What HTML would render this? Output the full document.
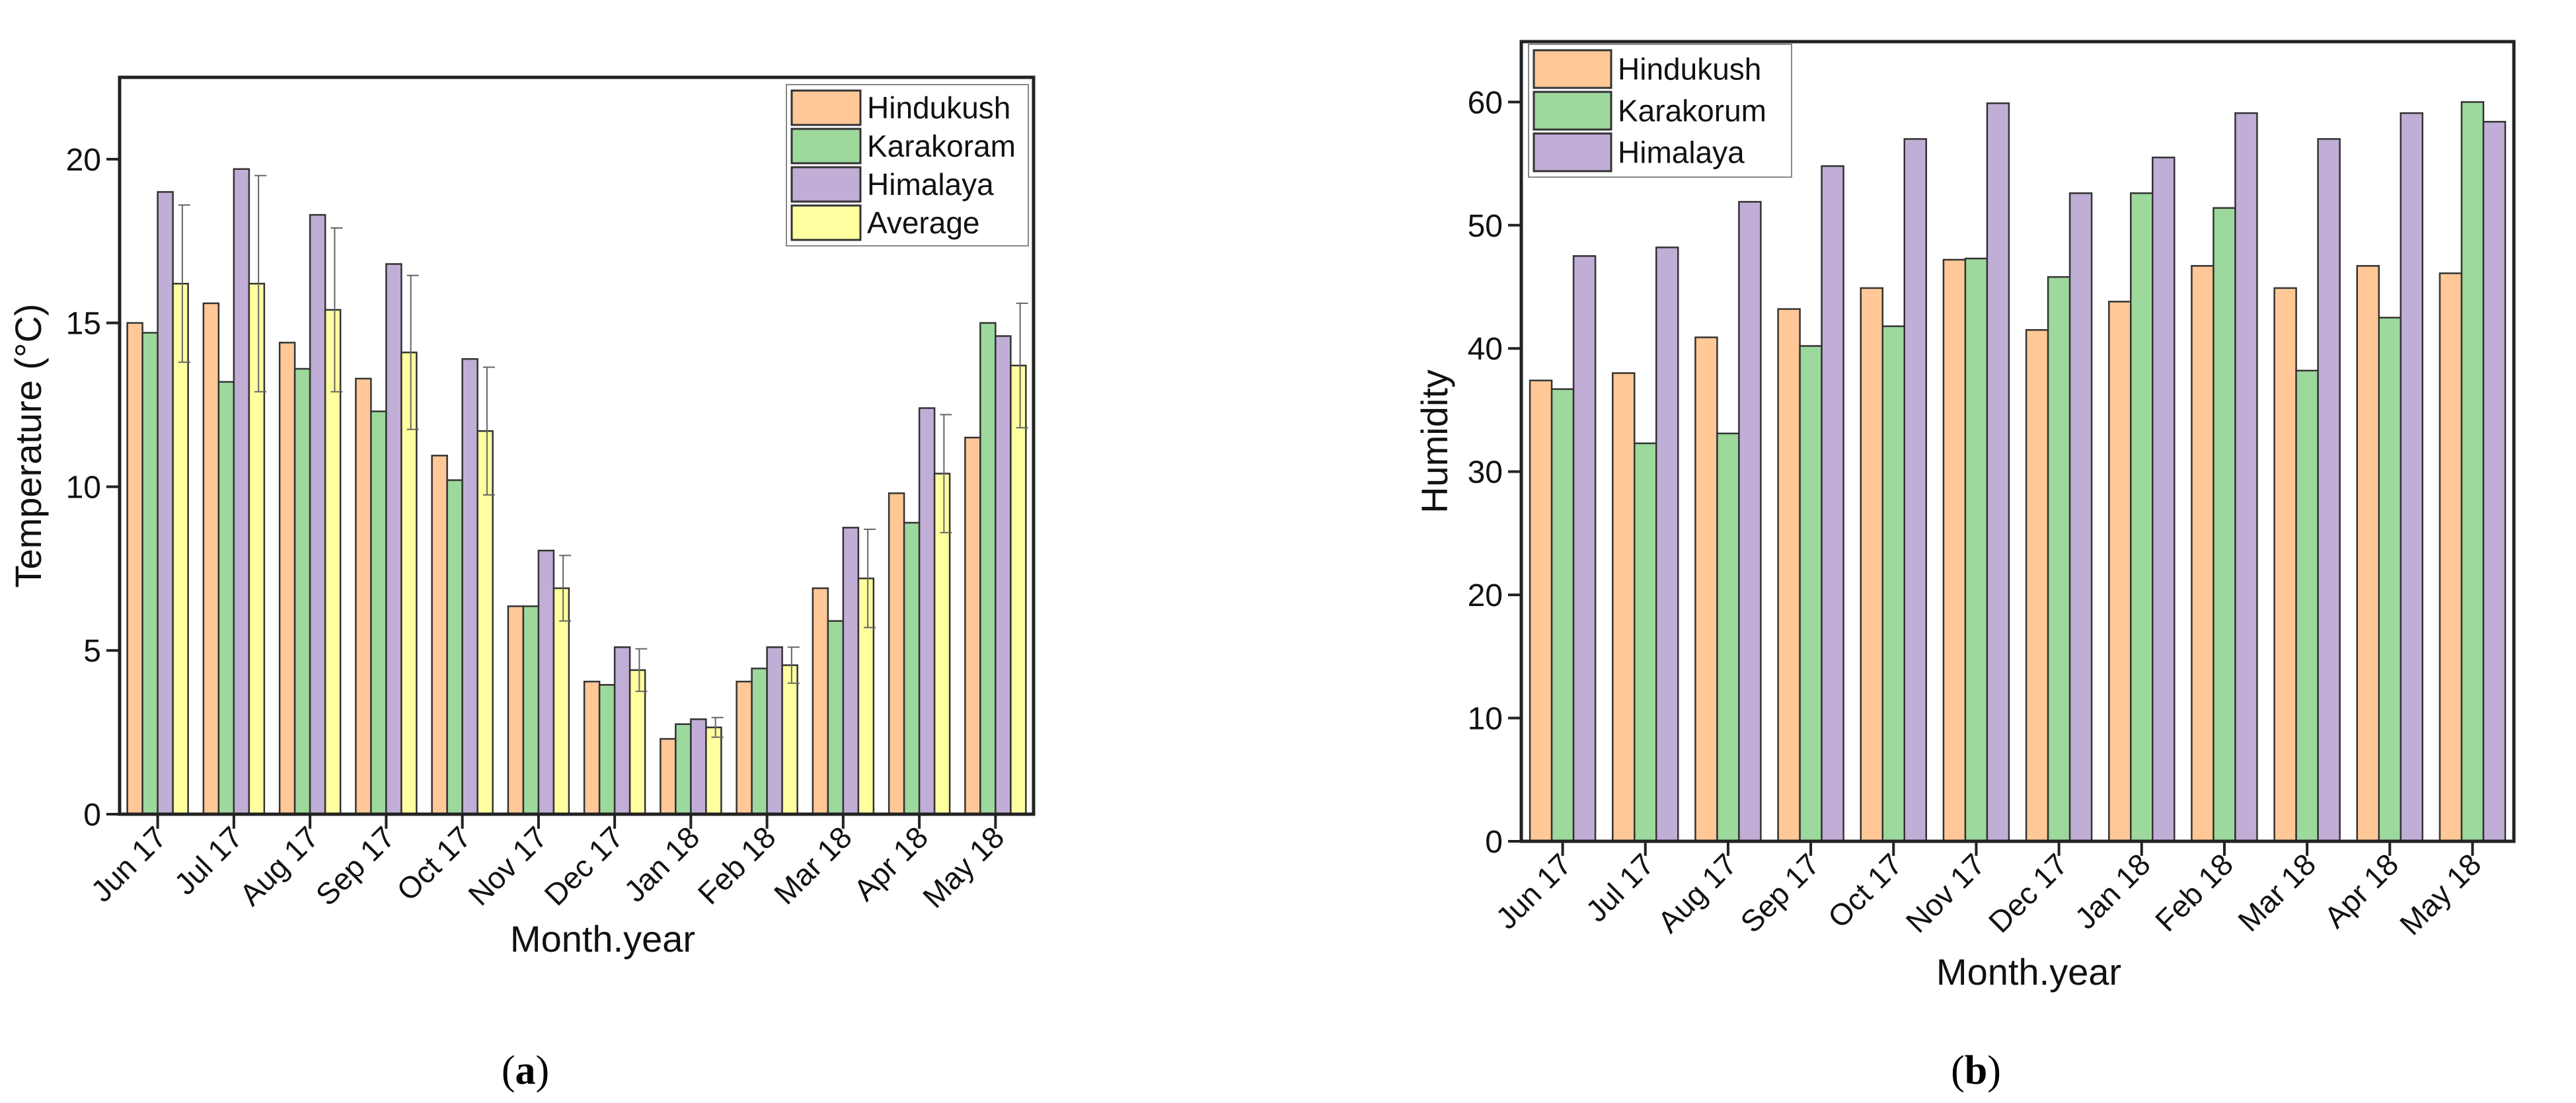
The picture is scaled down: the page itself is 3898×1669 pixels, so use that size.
<!DOCTYPE html>
<html><head><meta charset="utf-8"><style>
html,body{margin:0;padding:0;background:#fff;}
svg{display:block;font-family:"Liberation Sans",sans-serif;}
</style></head><body>
<svg id="svg" width="3898" height="1669" viewBox="0 0 3898 1669" xmlns="http://www.w3.org/2000/svg">
<g id="chartA"></g>
<g id="chartB"></g>
<text x="795" y="1640" font-family="Liberation Serif,serif" font-size="62" text-anchor="middle">(<tspan font-weight="bold">a</tspan>)</text>
<text x="2990" y="1640" font-family="Liberation Serif,serif" font-size="62" text-anchor="middle">(<tspan font-weight="bold">b</tspan>)</text>
</svg>
<script>
const months=["Jun 17","Jul 17","Aug 17","Sep 17","Oct 17","Nov 17","Dec 17","Jan 18","Feb 18","Mar 18","Apr 18","May 18"];
const tempHindukush=[15,15.6,14.4,13.3,10.95,6.35,4.05,2.3,4.05,6.9,9.8,11.5];
const tempKarakoram=[14.7,13.2,13.6,12.3,10.2,6.35,3.95,2.75,4.45,5.9,8.9,15];
const tempHimalaya=[19,19.7,18.3,16.8,13.9,8.05,5.1,2.9,5.1,8.75,12.4,14.6];
const tempAverage=[16.2,16.2,15.4,14.1,11.7,6.9,4.4,2.65,4.55,7.2,10.4,13.7];
const tempError=[2.4,3.3,2.5,2.35,1.95,1.0,0.65,0.3,0.55,1.5,1.8,1.9];
const tempTicks=[0,5,10,15,20];
const humHindukush=[37.4,38,40.9,43.2,44.9,47.2,41.5,43.8,46.7,44.9,46.7,46.1];
const humKarakorum=[36.7,32.3,33.1,40.2,41.8,47.3,45.8,52.6,51.4,38.2,42.5,60];
const humHimalaya=[47.5,48.2,51.9,54.8,57,59.9,52.6,55.5,59.1,57,59.1,58.4];
const humTicks=[0,10,20,30,40,50,60];

const NS="http://www.w3.org/2000/svg";
function mk(parent,tag,attrs,text){const e=document.createElementNS(NS,tag);for(const k in attrs)e.setAttribute(k,attrs[k]);if(text!==undefined)e.textContent=text;parent.appendChild(e);return e;}
const COL={o:"#FFC896",g:"#9DD89D",p:"#C0AED6",y:"#FFFFA0"};

function drawChart(g,cfg){
  const {L,R,T,B,ymax,ticks,series,barW,tickIdx,ytitle,legend}=cfg;
  const y=v=>B-(v/ymax)*(B-T);
  const gw=(R-L)/months.length;
  const cx=i=>L+gw*(i+0.5);
  series.forEach((s,si)=>{
    s.vals.forEach((v,i)=>{
      const x0=cx(i)+(si-tickIdx)*barW;
      const r=mk(g,"rect",{x:x0,y:y(v),width:barW,height:B-y(v),fill:s.c,stroke:"#333","stroke-width":2.5});
      
      
      if(s.err){
        const ex=x0+barW*0.62;
        const el=mk(g,"path",{d:`M${ex},${y(v-s.err[i])}V${y(v+s.err[i])}M${ex-6},${y(v+s.err[i])}H${ex+12}M${ex-6},${y(v-s.err[i])}H${ex+12}`,stroke:"#666","stroke-width":2,fill:"none"});
        
        
      }
    });
  });
  const fr=mk(g,"rect",{x:L,y:T,width:R-L,height:B-T,fill:"none",stroke:"#222","stroke-width":5});
  
  
  ticks.forEach(t=>{
    mk(g,"line",{x1:L-20,x2:L,y1:y(t),y2:y(t),stroke:"#222","stroke-width":4});
    const tl=mk(g,"text",{x:L-28,y:y(t)+17,"font-size":48,"text-anchor":"end",fill:"#111"},String(t));
    
    
  });
  months.forEach((m,i)=>{
    mk(g,"line",{x1:cx(i),x2:cx(i),y1:B,y2:B+22,stroke:"#222","stroke-width":4});
    const tx=cx(i)+16,ty=B+38;
    const xl=mk(g,"text",{x:tx,y:ty,"font-size":46,"text-anchor":"end",fill:"#111",transform:`rotate(-45 ${tx} ${ty})`},m);
    
    
  });
  const xt=mk(g,"text",{x:cfg.xtX,y:cfg.xtY,"font-size":56,"text-anchor":"middle",fill:"#111"},"Month.year");
  
  
  const yt=mk(g,"text",{x:cfg.ytX,y:(T+B)/2,"font-size":56,"text-anchor":"middle",fill:"#111",transform:`rotate(-90 ${cfg.ytX} ${(T+B)/2})`},ytitle);
  
  
  const lg=mk(g,"g",{});
  
  
  mk(lg,"rect",{x:legend.x,y:legend.y,width:legend.w,height:legend.rh*series.length+12,fill:"#fff",stroke:"#888","stroke-width":2});
  series.forEach((s,si)=>{
    const ry=legend.y+6+si*legend.rh;
    mk(lg,"rect",{x:legend.x+8,y:ry+3,width:legend.sw,height:legend.rh-6,fill:s.c,stroke:"#333","stroke-width":3});
    const lt=mk(lg,"text",{x:legend.x+legend.sw+18,y:ry+legend.rh/2+16,"font-size":46,fill:"#111"},s.n);
    
    
  });
}
drawChart(document.getElementById('chartA'),{L:181,R:1564,T:117,B:1232,ymax:22.5,ticks:tempTicks,barW:23,tickIdx:2,
  series:[{n:"Hindukush",c:COL.o,vals:tempHindukush},{n:"Karakoram",c:COL.g,vals:tempKarakoram},{n:"Himalaya",c:COL.p,vals:tempHimalaya},{n:"Average",c:COL.y,vals:tempAverage,err:tempError}],
  ytitle:"Temperature (°C)",ytX:62,xtX:912,xtY:1440,legend:{x:1190,y:128,w:366,rh:58,sw:104}});
drawChart(document.getElementById('chartB'),{L:2302,R:3804,T:63,B:1273,ymax:64.9,ticks:humTicks,barW:33,tickIdx:1.5,
  series:[{n:"Hindukush",c:COL.o,vals:humHindukush},{n:"Karakorum",c:COL.g,vals:humKarakorum},{n:"Himalaya",c:COL.p,vals:humHimalaya}],
  ytitle:"Humidity",ytX:2190,xtX:3070,xtY:1490,legend:{x:2313,y:67,w:398,rh:63,sw:117}});
</script>
</body></html>
